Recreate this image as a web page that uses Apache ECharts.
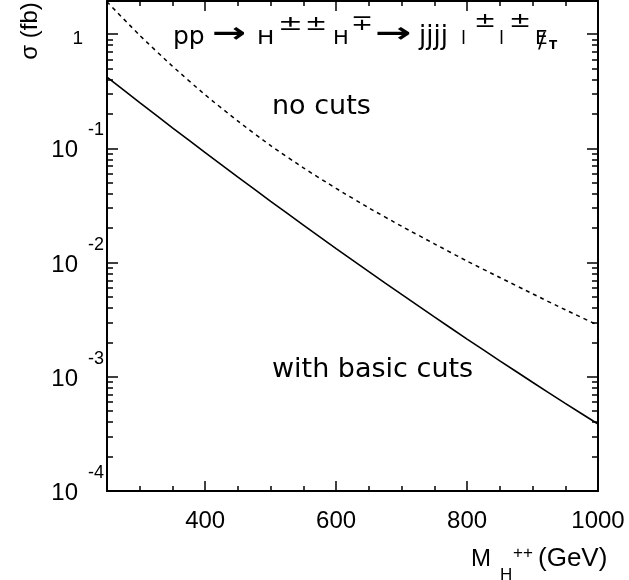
<!DOCTYPE html>
<html>
<head>
<meta charset="utf-8">
<script src="https://cdn.jsdelivr.net/npm/echarts@6/dist/echarts.min.js"></script>
<style>
html,body{margin:0;padding:0;background:#fff;}
#chart{width:629px;height:580px;}
</style>
</head>
<body>
<div id="chart"></div>
<script>
// ---- data ----
const massGeV = [250, 300, 350, 400, 450, 500, 550, 600, 650, 700, 750, 800, 850, 900, 950, 1000];
const sigmaNoCuts = [1.92, 0.975, 0.524, 0.294, 0.173, 0.1057, 0.0675, 0.0446, 0.0301, 0.0208, 0.0146, 0.0103, 0.0074, 0.00533, 0.00386, 0.00283];
const sigmaBasicCuts = [0.421, 0.2515, 0.1514, 0.0918, 0.056, 0.0344, 0.0213, 0.01326, 0.00832, 0.00526, 0.00334, 0.00214, 0.00138, 0.000896, 0.000585, 0.000386];
const xMajorTicks = [400, 600, 800, 1000];
const xMinorTicks = [300, 350, 450, 500, 550, 650, 700, 750, 850, 900, 950];
const yDecades = [1e-4, 1e-3, 1e-2, 1e-1, 1];
const yMinorTicks = [];
[1e-4, 1e-3, 1e-2, 1e-1].forEach(function (d) {
  for (let k = 2; k <= 9; k++) yMinorTicks.push(+(k * d).toPrecision(3));
});

const X_MIN = 250, X_MAX = 1000, Y_MIN = 1e-4, Y_MAX = 1.95;
const NUM_FONT = '"Liberation Sans", Arial, sans-serif';
const ANN_FONT = '"DejaVu Sans", sans-serif';

function pairs(xs, ys) { return xs.map(function (x, i) { return [x, ys[i]]; }); }

function xAx(pos, ticks, len, showLine, showLabel) {
  return {
    type: 'value', position: pos, min: X_MIN, max: X_MAX,
    axisLine: { show: showLine, onZero: false, lineStyle: { color: '#000', width: 2 } },
    axisTick: { show: true, inside: true, length: len, customValues: ticks, lineStyle: { color: '#000', width: 1.5 } },
    axisLabel: showLabel ? {
      show: true, customValues: xMajorTicks, margin: 18, color: '#000',
      fontSize: 24, fontFamily: NUM_FONT,
      formatter: function (v) { return String(v); }
    } : { show: false },
    splitLine: { show: false }
  };
}
function yAx(pos, ticks, len, showLine, label) {
  return {
    type: 'log', logBase: 10, position: pos, min: Y_MIN, max: Y_MAX,
    axisLine: { show: showLine, onZero: false, lineStyle: { color: '#000', width: 2 } },
    axisTick: { show: true, inside: true, length: len, customValues: ticks, lineStyle: { color: '#000', width: 1.5 } },
    axisLabel: label || { show: false },
    splitLine: { show: false }
  };
}

const mantissaLabel = {
  show: true, customValues: yDecades, margin: 24, verticalAlign: 'top',
  formatter: function (v) { return Math.abs(v - 1) < 1e-9 ? '{one|1}' : '{ten|10}'; },
  rich: {
    ten: { fontSize: 24, fontFamily: NUM_FONT, color: '#000', lineHeight: 5, padding: [0, 5, 0, 0] },
    one: { fontSize: 19, fontFamily: NUM_FONT, color: '#000', lineHeight: 9 }
  }
};
const exponentLabel = {
  show: true, customValues: yDecades, margin: 19, align: 'left', verticalAlign: 'bottom',
  fontSize: 18, fontFamily: NUM_FONT, color: '#000', lineHeight: 36,
  formatter: function (v) { return v < 0.99 ? String(Math.round(Math.log10(v))) : ''; }
};

function txt(str, x, baseline, fs, family, extra, weight) {
  const el = {
    type: 'text', x: x, y: baseline - 0.3 * fs, silent: true,
    style: {
      text: str, fontSize: fs, fontFamily: family, fontWeight: weight || 'normal', fill: '#000',
      align: 'left', verticalAlign: 'middle', textAlign: 'left', textVerticalAlign: 'middle'
    }
  };
  if (extra) Object.assign(el, extra);
  return el;
}

const graphics = [
  // process label
  txt('pp', 173, 45, 25, ANN_FONT),
  txt('\u2192', 212, 43, 28, ANN_FONT, { scaleX: 1.45 }, 'bold'),
  txt('H', 257, 45, 20, ANN_FONT, { scaleX: 1.15 }),
  txt('\u00B1', 278, 31, 22, ANN_FONT, { scaleX: 1.35 }),
  txt('\u00B1', 305, 31, 22, ANN_FONT, { scaleX: 1.2 }),
  txt('H', 333, 45, 20, ANN_FONT, { scaleX: 1.05 }),
  txt('\u2213', 351, 31, 22, ANN_FONT, { scaleX: 1.2 }),
  txt('\u2192', 375, 43, 28, ANN_FONT, { scaleX: 1.55 }, 'bold'),
  txt('jjjj', 419, 45, 26, ANN_FONT),
  txt('l', 461, 45, 18, ANN_FONT),
  txt('\u00B1', 474, 28, 22, ANN_FONT, { scaleX: 1.2 }),
  txt('l', 499, 45, 18, ANN_FONT),
  txt('\u00B1', 509, 28, 22, ANN_FONT, { scaleX: 1.2 }),
  txt('E', 535, 45, 20, ANN_FONT),
  txt('/', 538, 49, 22, ANN_FONT),
  txt('T', 549, 49, 12, ANN_FONT, null, 'bold'),
  // curve labels
  txt('no cuts', 272, 115, 27, ANN_FONT),
  txt('with basic cuts', 272, 378, 27, ANN_FONT),
  // x axis title
  txt('M', 471, 567, 24, NUM_FONT),
  txt('H', 500, 580, 17, NUM_FONT),
  txt('++', 513, 558, 17, NUM_FONT),
  txt('(GeV)', 538, 567, 26, NUM_FONT),
  // y axis title
  {
    type: 'text', x: 30, y: 31, rotation: Math.PI / 2, silent: true,
    style: {
      text: '\u03C3 (fb)', fontSize: 24, fontFamily: NUM_FONT, fill: '#000',
      align: 'center', verticalAlign: 'middle', textAlign: 'center', textVerticalAlign: 'middle'
    }
  }
];

const chart = echarts.init(document.getElementById('chart'), null, { renderer: 'canvas' });
chart.setOption({
  animation: false,
  backgroundColor: '#fff',
  grid: { left: 107, right: 31, top: 1, bottom: 89, containLabel: false },
  xAxis: [
    xAx('bottom', xMajorTicks, 10, true, true),
    xAx('bottom', xMinorTicks, 5, false, false),
    xAx('top', xMajorTicks, 10, true, false),
    xAx('top', xMinorTicks, 5, false, false)
  ],
  yAxis: [
    yAx('left', yDecades, 11, true, mantissaLabel),
    yAx('left', yMinorTicks, 6, false, exponentLabel),
    yAx('right', yDecades, 11, true, null),
    yAx('right', yMinorTicks, 6, false, null)
  ],
  series: [
    {
      name: 'no cuts', type: 'line', xAxisIndex: 0, yAxisIndex: 0,
      data: pairs(massGeV, sigmaNoCuts), showSymbol: false, smooth: 0.2,
      lineStyle: { color: '#000', width: 1.5, type: [4, 4] }
    },
    {
      name: 'with basic cuts', type: 'line', xAxisIndex: 0, yAxisIndex: 0,
      data: pairs(massGeV, sigmaBasicCuts), showSymbol: false, smooth: 0.2,
      lineStyle: { color: '#000', width: 1.6 }
    }
  ],
  graphic: graphics
});
</script>
</body>
</html>
